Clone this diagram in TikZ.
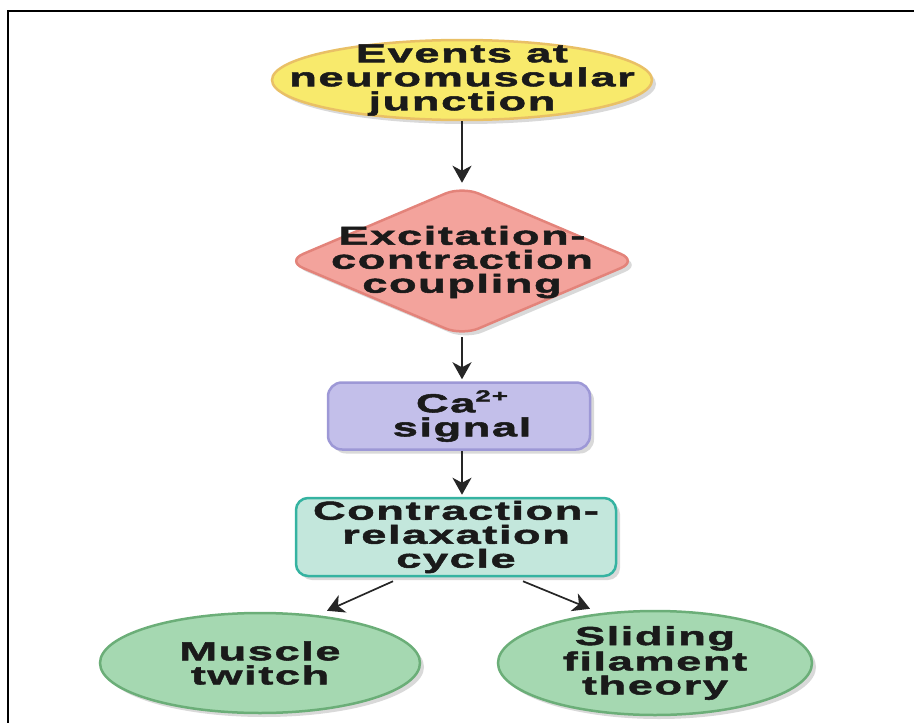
\documentclass[tikz,border=0pt]{standalone}
\usepackage{fontspec}
\usetikzlibrary{shapes.geometric,arrows.meta,shadows}
\newfontfamily\boxfont[FakeStretch=1.74,FakeBold=2,LetterSpace=6]{Liberation Sans Bold}
\definecolor{yellowfill}{HTML}{F8EA6C}
\definecolor{yellowline}{HTML}{E9C066}
\definecolor{pinkfill}{HTML}{F3A39C}
\definecolor{pinkline}{HTML}{E3837A}
\definecolor{lavfill}{HTML}{C3BFEA}
\definecolor{lavline}{HTML}{9D98D6}
\definecolor{tealfill}{HTML}{C3E7DC}
\definecolor{tealline}{HTML}{35B3A1}
\definecolor{greenfill}{HTML}{A5D8B1}
\definecolor{greenline}{HTML}{6BAE78}
\definecolor{txtcol}{HTML}{1A1A1A}
\tikzset{
  shade/.style={drop shadow={shadow xshift=4pt,shadow yshift=-4pt,opacity=0.15,fill=black}},
  shapebox/.style={line width=2.5pt,inner sep=0pt,shade},
  label/.style={align=center,text=txtcol,inner sep=0pt,font=\boxfont\fontsize{26}{24}\selectfont},
  arr/.style={-{Stealth[length=17pt,width=19pt,inset=5pt]},line width=1.7pt,black!85},
}
\begin{document}
\begin{tikzpicture}[x=1pt,y=-1pt]
\useasboundingbox (0,0) rectangle (914,723);
\draw[line width=2.5pt] (914,11) -- (8,11) -- (8,723);

\node[shapebox,ellipse,fill=yellowfill,draw=yellowline,minimum width=380,minimum height=80] (ev) at (462,80) {};
\node[label] (evt) at (ev.center) {Events at\\neuromuscular\\junction};

\node[shapebox,diamond,fill=pinkfill,draw=pinkline,rounded corners=18pt,minimum width=352,minimum height=150] (ecc) at (462,261) {};
\node[label] (ecct) at ([yshift=-1pt]ecc.center) {Excitation-\\contraction\\coupling};

\node[shapebox,rectangle,rounded corners=14pt,fill=lavfill,draw=lavline,minimum width=262,minimum height=67] (ca) at (459,416) {};
\node[label] (cat) at ([xshift=3pt]ca.center) {Ca\raisebox{0.42em}{\fontsize{16}{16}\selectfont 2+}\\signal};

\node[shapebox,rectangle,rounded corners=12pt,fill=tealfill,draw=tealline,minimum width=320,minimum height=78] (crc) at (456,537) {};
\node[label] (crct) at (crc.center) {Contraction-\\relaxation\\cycle};

\node[shapebox,ellipse,fill=greenfill,draw=greenline,minimum width=320,minimum height=100] (mt) at (260,663) {};
\node[label] (mtt) at (mt.center) {Muscle\\twitch};

\node[shapebox,ellipse,fill=greenfill,draw=greenline,minimum width=314,minimum height=104] (sft) at (655,663) {};
\node[label] (sftt) at (sft.center) {Sliding\\filament\\theory};

\draw[arr] (ev.south) -- ([yshift=2pt]ecc.north);
\draw[arr] (ecc.south) -- ([yshift=2pt]ecc.south |- ca.north);
\draw[arr] (ecc.south |- ca.south) -- ([yshift=2pt]ecc.south |- crc.north);
\draw[arr] ([xshift=-63pt,yshift=-4pt]crc.south) -- ([xshift=67pt,yshift=1pt]mt.north);
\draw[arr] ([xshift=67pt,yshift=-4pt]crc.south) -- ([xshift=-65pt,yshift=1pt]sft.north);
\end{tikzpicture}
\end{document}
